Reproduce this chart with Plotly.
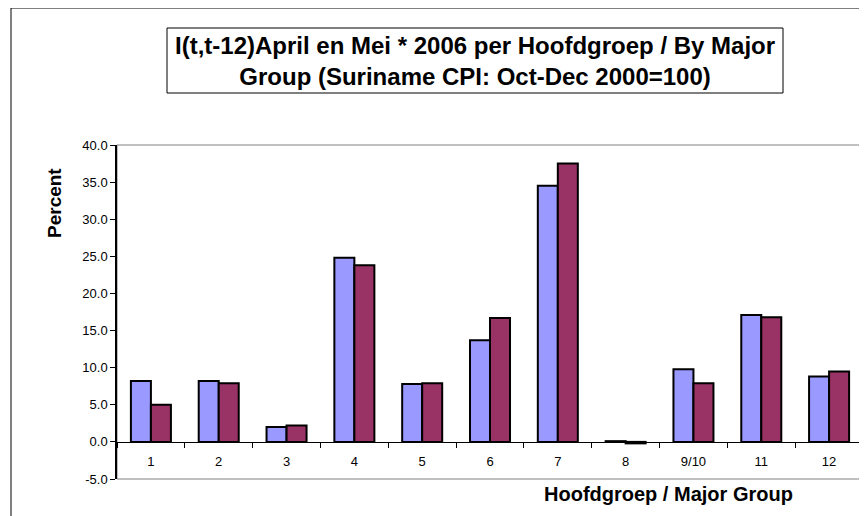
import plotly.graph_objects as go

categories = ["1", "2", "3", "4", "5", "6", "7", "8", "9/10", "11", "12"]
april = [8.2, 8.2, 2.0, 24.8, 7.8, 13.7, 34.5, 0.1, 9.8, 17.1, 8.8]
mei = [5.0, 7.9, 2.2, 23.8, 7.9, 16.7, 37.5, -0.2, 7.9, 16.8, 9.5]
y_ticks = [-5, 0, 5, 10, 15, 20, 25, 30, 35, 40]
y_tick_labels = ["-5.0", "0.0", "5.0", "10.0", "15.0", "20.0", "25.0", "30.0", "35.0", "40.0"]

title_text = "I(t,t-12)April en Mei * 2006 per Hoofdgroep / By Major<br>Group (Suriname CPI: Oct-Dec 2000=100)"

# The page body has an 8px margin; work in reference pixels and shift by OFF.
OFF = 8
W, H = 867 - OFF, 516 - OFF
PL, PR, PT, PB = 117, 863, 145, 479          # plot area in reference pixels
L, T = PL - OFF, PT - OFF
R, B = W - (PR - OFF), H - (PB - OFF)
pw, ph = PR - PL, PB - PT


def px(x):
    return (x - PL) / pw


def py(y):
    return (PB - y) / ph


FONT = "Liberation Sans, Arial, sans-serif"

fig = go.Figure()
fig.add_trace(go.Bar(name="April", x=categories, y=april,
                     marker=dict(color="#9999FF", line=dict(color="#000000", width=2))))
fig.add_trace(go.Bar(name="Mei", x=categories, y=mei,
                     marker=dict(color="#993366", line=dict(color="#000000", width=2))))

zero_pos = (0 - (-5)) / 45.0

fig.update_layout(
    width=W, height=H,
    margin=dict(l=L, r=R, t=T, b=B, pad=0),
    paper_bgcolor="white", plot_bgcolor="white",
    barmode="group", bargap=0.41, bargroupgap=0,
    showlegend=False,
    font=dict(family=FONT, color="#000000"),
    xaxis=dict(
        type="category", anchor="free", position=zero_pos,
        showline=True, linecolor="#000000", linewidth=1,
        ticks="outside", ticklen=5, tickcolor="#000000", tickwidth=1,
        tickson="boundaries", ticklabelstandoff=8,
        showgrid=False, zeroline=False,
        tickfont=dict(size=13, family=FONT, color="#000000"),
    ),
    yaxis=dict(
        range=[-5, 40], tickvals=y_ticks, ticktext=y_tick_labels,
        showline=True, linecolor="#000000", linewidth=1.5,
        ticks="outside", ticklen=5, tickcolor="#000000", tickwidth=1,
        showgrid=False, zeroline=False,
        tickfont=dict(size=13, family=FONT, color="#000000"),
    ),
    shapes=[
        # outer chart border
        dict(type="rect", xref="paper", yref="paper",
             x0=px(11), x1=px(900), y0=py(560), y1=py(8),
             line=dict(color="#000000", width=1), fillcolor="rgba(0,0,0,0)", layer="below"),
        # plot area border
        dict(type="rect", xref="paper", yref="paper",
             x0=0, x1=1, y0=0, y1=1,
             line=dict(color="#808080", width=1), fillcolor="rgba(0,0,0,0)", layer="below"),
        # title box
        dict(type="rect", xref="paper", yref="paper",
             x0=px(167), x1=px(783), y0=py(93), y1=py(28),
             line=dict(color="#000000", width=1), fillcolor="white"),
    ],
    annotations=[
        dict(text="<b>" + title_text + "</b>", xref="paper", yref="paper",
             x=px(475), y=py(61), xanchor="center", yanchor="middle",
             showarrow=False, align="center",
             font=dict(size=24, family=FONT, color="#000000")),
        dict(text="<b>Percent</b>", xref="paper", yref="paper",
             x=px(54), y=py(203), xanchor="center", yanchor="middle",
             textangle=-90, showarrow=False,
             font=dict(size=19, family=FONT, color="#000000")),
        dict(text="<b>Hoofdgroep / Major Group</b>", xref="paper", yref="paper",
             x=px(668), y=py(494), xanchor="center", yanchor="middle",
             showarrow=False,
             font=dict(size=20, family=FONT, color="#000000")),
    ],
)

fig.write_html("out.html")
